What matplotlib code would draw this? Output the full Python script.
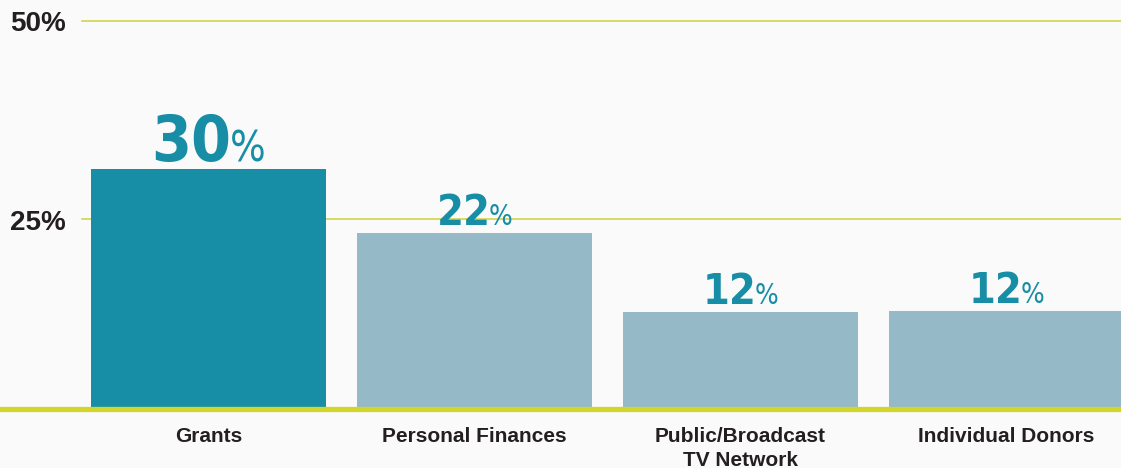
import matplotlib
matplotlib.use("Agg")
import matplotlib.pyplot as plt
from matplotlib.transforms import ScaledTranslation, blended_transform_factory

# data
categories = ["Grants", "Personal Finances", "Public/Broadcast\nTV Network", "Individual Donors"]
values = [31.3, 23.3, 13.35, 13.5]
value_labels = ["30", "22", "12", "12"]
highlight = [True, False, False, False]
ticks = [25, 50]
tick_labels = ["25%", "50%"]

teal = "#178ea6"
light = "#96b9c8"
grid_col = "#cdd43e"
base_col = "#d3d62a"
text_col = "#231f20"
bg = "#fafafa"

fig = plt.figure(figsize=(11.21, 4.68), dpi=100, facecolor=bg)
ax = fig.add_axes([0, 0.1254, 1, 0.8746])
ax.set_facecolor(bg)

x = list(range(len(categories)))
colors = [teal if h else light for h in highlight]
bars = ax.bar(x, values, width=0.8835, color=colors, zorder=2)

ax.set_xlim(-0.7838, 3.4305)
ax.set_ylim(1.05, 52.66)

for s in ax.spines.values():
    s.set_visible(False)
ax.set_yticks([])
ax.set_xticks(x, categories, fontsize=15, fontweight="bold", color=text_col,
              family="Liberation Sans", linespacing=1.3)
ax.tick_params(axis="x", length=0, pad=13)

# gridlines + left labels
for t, lab in zip(ticks, tick_labels):
    ax.axhline(t, xmin=82 / 1121, xmax=1, color=grid_col, lw=1.1, zorder=1)
    ax.text(10 / 1121, t - 0.4, lab, transform=blended_transform_factory(ax.transAxes, ax.transData),
            ha="left", va="center", fontsize=20, fontweight="bold", color=text_col,
            family="Liberation Sans")

# thick baseline
ax.axhline(1.05, color=base_col, lw=3.8, zorder=5, clip_on=False)

# value labels: condensed digits + smaller percent sign
fig.canvas.draw()
r = fig.canvas.get_renderer()
for xi, v, lab, h in zip(x, values, value_labels, highlight):
    big = 46 if h else 31
    small = 30 if h else 20
    t1 = ax.text(xi, v, lab, ha="left", va="baseline", fontsize=big, color=teal, fontweight="bold",
                 family=["Liberation Sans Narrow", "DejaVu Sans"], fontstretch="condensed")
    t2 = ax.text(xi, v, "%", ha="left", va="baseline", fontsize=small, color=teal,
                 family=["Liberation Sans Narrow", "DejaVu Sans"], fontstretch="condensed")
    w1 = t1.get_window_extent(r).width
    w2 = t2.get_window_extent(r).width
    sep = -2
    total = w1 + sep + w2
    gap = 8
    t1.set_transform(ax.transData + ScaledTranslation(-total / 2 / 100, gap / 100, fig.dpi_scale_trans))
    t2.set_transform(ax.transData + ScaledTranslation((-total / 2 + w1 + sep) / 100, gap / 100, fig.dpi_scale_trans))

fig.savefig("out.png", dpi=100, facecolor=bg)
